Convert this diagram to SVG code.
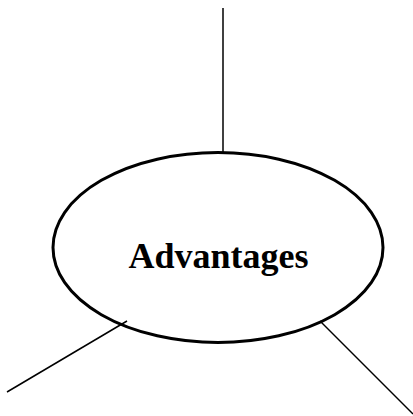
<svg xmlns="http://www.w3.org/2000/svg" width="413" height="416" viewBox="0 0 413 416">
<style>
.conn{stroke:#000;stroke-width:1.5;fill:none}
.node{fill:none;stroke:#000;stroke-width:3}
.lbl{font-family:"Liberation Serif","Times New Roman",serif;font-weight:bold;font-size:36px;fill:#000}
</style>
<rect width="413" height="416" fill="#fff"/>
<g id="advantages">
<ellipse class="node" cx="218" cy="247.5" rx="165" ry="95"/>
<text class="lbl" x="218.5" y="268" text-anchor="middle">Advantages</text>
</g>
<g id="connectors">
<line class="conn" x1="223" y1="8" x2="223" y2="152"/>
<line class="conn" x1="127" y1="321" x2="7" y2="392"/>
<line class="conn" x1="320" y1="321" x2="413" y2="414"/>
</g>
</svg>
